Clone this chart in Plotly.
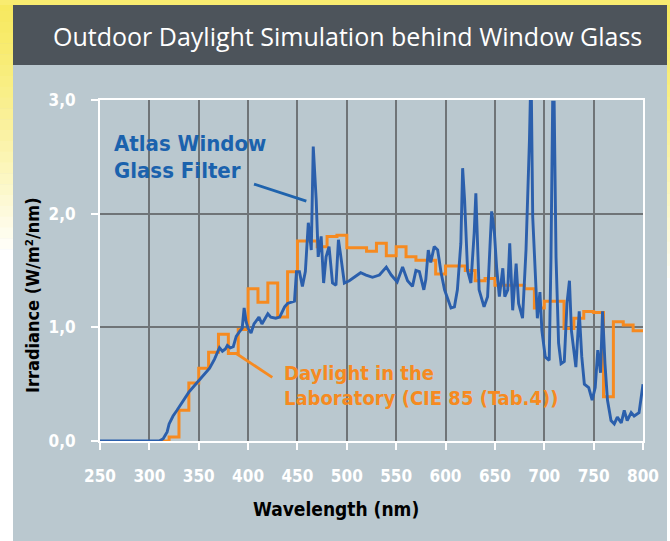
import plotly.graph_objects as go

# ---------------- data ----------------
wl_atlas = [250, 300, 310, 314, 318, 320, 324, 328, 334, 340, 346, 351, 356, 361, 366, 369, 371, 374, 377, 379,
            382, 385, 388, 392, 394, 396, 398, 400, 403, 406, 409, 411, 414, 417, 420, 423, 428, 432, 437, 440,
            444, 447, 449, 452, 455, 458, 461, 464, 466, 469, 471, 474, 476.5, 479, 482, 485.5, 489, 491.5, 494, 497.5,
            502.5, 507.5, 514, 519.5, 526, 533, 540, 545, 551, 556.5, 561.5, 566.5, 570, 573.5, 578, 580, 582.5, 585, 588.5, 592,
            595.5, 599, 602, 605.5, 609, 612, 615.5, 617.3, 619.3, 622.3, 625.7, 629, 630.7, 632, 634, 639, 642.6, 645, 646.7, 649.5,
            651.7, 654.5, 658, 660, 663, 665, 668, 671.5, 674, 678, 681.5, 685, 686.6, 688.3, 691.7, 693, 695.6, 697.6, 701, 705,
            706.8, 708.5, 710, 711.9, 714.5, 717, 720.3, 723, 725.5, 727.5, 732, 735.4, 738, 740.6, 745, 748.5, 751.6, 754.2, 757, 759,
            761.5, 764, 767.6, 770.9, 774, 778, 781, 784, 788, 791, 796, 799, 800]
irr_atlas = [0, 0, 0, 0.02, 0.08, 0.15, 0.22, 0.27, 0.35, 0.43, 0.49, 0.54, 0.59, 0.64, 0.72, 0.78, 0.82, 0.79, 0.81, 0.84,
             0.82, 0.83, 0.92, 0.97, 0.99, 1.17, 1.05, 0.99, 0.95, 1.03, 1.07, 1.09, 1.03, 1.08, 1.12, 1.09, 1.08, 1.09, 1.18, 1.21,
             1.22, 1.23, 1.49, 1.49, 1.36, 1.49, 1.92, 1.68, 2.59, 2.12, 1.62, 1.80, 1.39, 1.62, 1.71, 1.39, 1.37, 1.77, 1.62, 1.39,
             1.41, 1.44, 1.48, 1.46, 1.44, 1.46, 1.53, 1.46, 1.40, 1.53, 1.41, 1.36, 1.50, 1.49, 1.33, 1.42, 1.68, 1.57, 1.71, 1.68,
             1.48, 1.33, 1.25, 1.17, 1.18, 1.33, 1.74, 2.40, 2.12, 1.50, 1.39, 1.83, 2.18, 1.85, 1.33, 1.18, 1.27, 1.71, 2.02, 1.83,
             1.53, 1.27, 1.52, 1.27, 1.33, 1.74, 1.15, 1.56, 1.21, 1.08, 1.68, 2.65, 3.30, 1.97, 1.21, 1.08, 1.31, 0.97, 0.74, 0.71,
             1.62, 2.98, 2.98, 1.62, 0.86, 0.68, 0.70, 1.21, 1.41, 0.97, 0.65, 1.14, 0.74, 0.50, 0.47, 0.36, 0.47, 0.80, 0.60, 1.14,
             0.68, 0.36, 0.18, 0.15, 0.21, 0.16, 0.27, 0.18, 0.25, 0.22, 0.25, 0.48, 0.50]

wl_cie = [310, 320, 330, 340, 350, 360, 370, 380, 390, 400, 410, 420, 430, 440, 450, 460, 470, 480, 490, 500,
          510, 520, 530, 540, 550, 560, 570, 580, 590, 600, 610, 620, 630, 640, 650, 660, 670, 680, 690, 700,
          710, 720, 730, 740, 750, 760, 770, 780, 790, 800]
irr_cie = [0, 0.035, 0.27, 0.51, 0.64, 0.78, 0.94, 0.77, 0.98, 1.34, 1.22, 1.39, 1.09, 1.49, 1.76, 1.76, 1.71, 1.80, 1.81, 1.70,
           1.70, 1.67, 1.74, 1.63, 1.71, 1.62, 1.59, 1.59, 1.47, 1.54, 1.54, 1.50, 1.41, 1.43, 1.37, 1.37, 1.37, 1.34, 1.17, 1.23,
           1.23, 0.99, 1.08, 1.14, 1.13, 0.39, 1.05, 1.02, 0.97, 0.97]

x_ticks = [250, 300, 350, 400, 450, 500, 550, 600, 650, 700, 750, 800]
y_ticks = [0, 1, 2, 3]
y_tick_labels = ["0,0", "1,0", "2,0", "3,0"]

title_text = "Outdoor Daylight Simulation behind Window Glass"
atlas_label = ["Atlas Window", "Glass Filter"]
cie_label = ["Daylight in the", "Laboratory (CIE 85 (Tab.4))"]

# ---------------- layout helpers ----------------
W, H = 670, 541
L, R, T, B = 100, 27, 100, 100
PW, PH = W - L - R, H - T - B


def fx(p):
    return (p - L) / PW


def fy(p):
    return (H - B - p) / PH


COND = "Liberation Sans Narrow, DejaVu Sans Condensed, Arial Narrow, sans-serif"
BLUE = "#2b5fac"
ORANGE = "#f68a20"
BG = "#bac8cf"

fig = go.Figure()
fig.add_trace(go.Scatter(x=wl_cie, y=irr_cie, mode="lines", line=dict(color=ORANGE, width=3, shape="hv"),
                         hoverinfo="skip", showlegend=False))
fig.add_trace(go.Scatter(x=wl_atlas, y=irr_atlas, mode="lines", line=dict(color=BLUE, width=2.9),
                         hoverinfo="skip", showlegend=False))

shapes = []


def lerp(c1, c2, t):
    return "rgb(%d,%d,%d)" % tuple(round(a + (b - a) * t) for a, b in zip(c1, c2))


Y1, WHITE = (247, 233, 96), (255, 255, 255)
N = 24
for side, (xa, xb, ymax) in {"l": (0, 13, 260), "r": (667, 670, 290)}.items():
    for i in range(N):
        ya = ymax * i / N
        yb = ymax * (i + 1) / N + 0.5
        t = (i / (N - 1)) ** 1.3
        shapes.append(dict(type="rect", xref="paper", yref="paper", x0=fx(xa), x1=fx(xb), y0=fy(yb), y1=fy(ya),
                           fillcolor=lerp(Y1, WHITE, t), line=dict(width=0), layer="below"))
    shapes.append(dict(type="rect", xref="paper", yref="paper", x0=fx(xa), x1=fx(xb), y0=fy(H), y1=fy(ymax),
                       fillcolor="white", line=dict(width=0), layer="below"))
shapes.append(dict(type="rect", xref="paper", yref="paper", x0=fx(0), x1=fx(W), y0=fy(5), y1=fy(0),
                   fillcolor="rgb(249,236,112)", line=dict(width=0), layer="below"))
# title bar
shapes.append(dict(type="rect", xref="paper", yref="paper", x0=fx(13), x1=fx(667), y0=fy(65), y1=fy(5),
                   fillcolor="#4d545b", line=dict(width=0), layer="below"))
# leader lines
shapes.append(dict(type="line", xref="x", yref="y", x0=406, y0=2.26, x1=459, y1=2.11,
                   line=dict(color="#1f63ad", width=2.8)))
shapes.append(dict(type="line", xref="x", yref="y", x0=388, y0=0.77, x1=424.5, y1=0.56,
                   line=dict(color=ORANGE, width=2.8)))

annotations = [
    dict(text=title_text, xref="paper", yref="paper", x=fx(51), y=fy(36), xanchor="left", yanchor="middle",
         showarrow=False, font=dict(family="Open Sans, sans-serif", size=25, color="white")),
    dict(text="Wavelength (nm)", xref="paper", yref="paper", x=fx(336), y=fy(509), xanchor="center", yanchor="middle",
         showarrow=False, font=dict(family=COND, size=19, color="black", weight="bold")),
    dict(text="Irradiance (W/m²/nm)", xref="paper", yref="paper", x=fx(32), y=fy(295), xanchor="center",
         yanchor="middle", textangle=-90, showarrow=False,
         font=dict(family=COND, size=18, color="black", weight="bold")),
]
for t, yy in zip(atlas_label, [2.62, 2.38]):
    annotations.append(dict(text=t, xref="x", yref="y", x=262.5, y=yy, xanchor="left", yanchor="middle",
                            showarrow=False, font=dict(family=COND, size=22, color="#1b62ad", weight="bold")))
for t, yy in zip(cie_label, [0.60, 0.375]):
    annotations.append(dict(text=t, xref="x", yref="y", x=434.5, y=yy, xanchor="left", yanchor="middle",
                            showarrow=False, font=dict(family=COND, size=20, color=ORANGE, weight="bold")))

axis_common = dict(showline=True, linecolor="white", linewidth=2, mirror=True, showgrid=True,
                   gridcolor="#6f7477", gridwidth=2, zeroline=False, ticks="outside", ticklen=7,
                   tickwidth=1.5, tickcolor="white", fixedrange=True,
                   tickfont=dict(family=COND, size=17, color="white", weight="bold"))

fig.update_layout(
    width=W, height=H, margin=dict(l=L, r=R, t=T, b=B, autoexpand=False),
    paper_bgcolor=BG, plot_bgcolor=BG, shapes=shapes, annotations=annotations, showlegend=False,
    xaxis=dict(range=[250, 800], tickvals=x_ticks, ticklabelstandoff=12, **axis_common),
    yaxis=dict(range=[0, 3], tickvals=y_ticks, ticktext=y_tick_labels, ticklabelstandoff=12, **axis_common),
)

fig.write_html("out.html", include_plotlyjs=True, config=dict(displayModeBar=False),
               post_script="document.body.style.margin='0';document.body.style.overflow='hidden';")
